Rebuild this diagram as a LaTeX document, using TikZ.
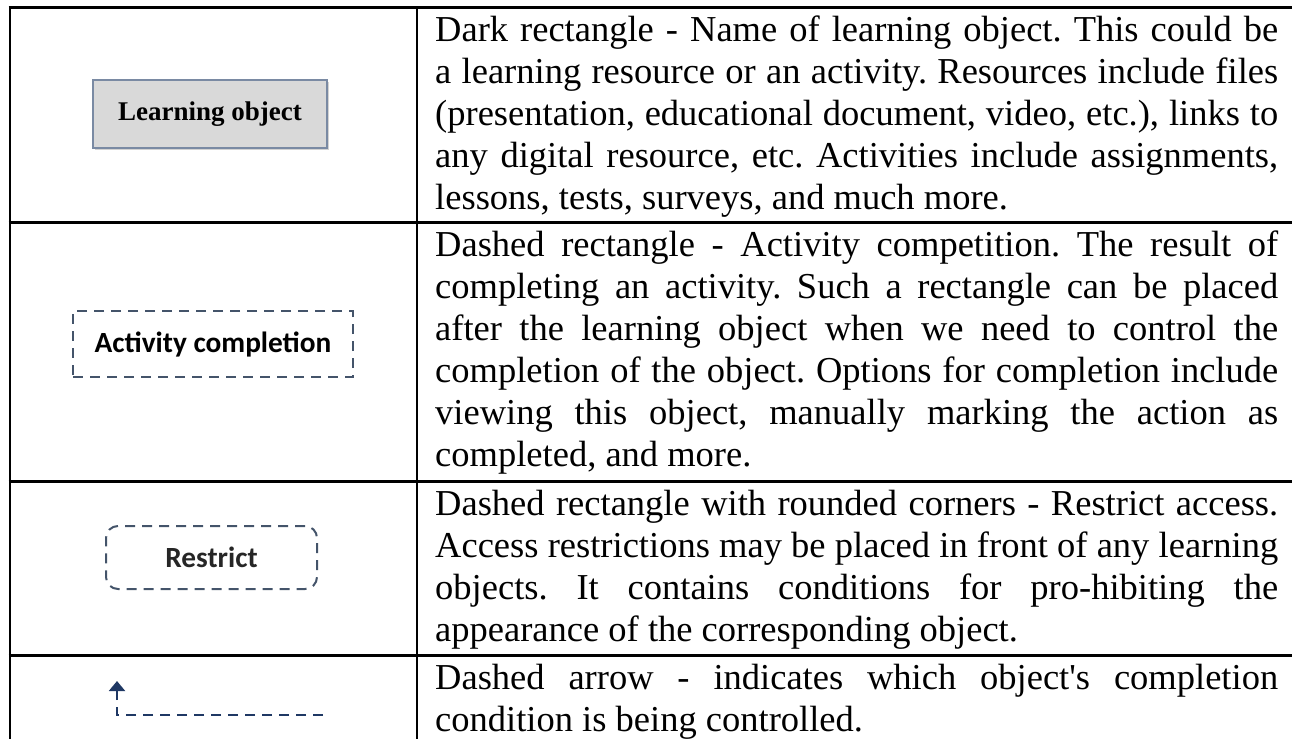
\documentclass[tikz,border=0pt]{standalone}
\usepackage{fontspec}
\setmainfont{Liberation Serif}
\newfontfamily\carlito{Carlito}
\usetikzlibrary{arrows.meta,shadows}
\definecolor{slate}{RGB}{68,84,106}
\definecolor{navy}{RGB}{31,56,100}
\definecolor{boxgray}{RGB}{217,217,217}
\definecolor{boxedge}{RGB}{122,138,163}
\definecolor{labelgray}{RGB}{38,38,38}
\frenchspacing
% one justified line of the description column
\newcommand\jline[1]{\makebox[843pt][s]{#1}}
\begin{document}
\begin{tikzpicture}[x=1pt,y=-1pt,
  grid/.style={line width=2.6pt, black},
  txt/.style={anchor=base west, inner sep=0pt, font=\fontsize{36.5}{42}\selectfont},
  lobj/.style={draw=boxedge, fill=boxgray, line width=1.8pt,
    minimum width=234pt, minimum height=68pt, inner sep=0pt,
    drop shadow={shadow xshift=2pt, shadow yshift=-2pt, opacity=.35},
    font=\bfseries\fontsize{27}{30}\selectfont},
  actbox/.style={draw=slate, dash pattern=on 10pt off 7pt, line width=2pt,
    minimum width=280pt, minimum height=66pt, inner sep=0pt,
    font=\carlito\bfseries\fontsize{29.3}{32}\selectfont},
  restrictbox/.style={draw=slate, dash pattern=on 10pt off 7pt, line width=2pt,
    rounded corners=12pt, minimum width=211pt, minimum height=63pt, inner sep=0pt,
    text=labelgray, font=\carlito\bfseries\fontsize{29.3}{32}\selectfont},
  ctrlarrow/.style={draw=navy, line width=2pt, dash pattern=on 10pt off 7pt,
    -{Triangle[width=16pt,length=10pt]}}
]
\useasboundingbox (0,0) rectangle (1292,739);

% table rules
\draw[grid] (8.7,7.7) -- (1292,7.7);
\draw[grid] (8.7,222.5) -- (1292,222.5);
\draw[grid] (8.7,481.5) -- (1292,481.5);
\draw[grid] (8.7,655.5) -- (1292,655.5);
\draw[grid] (10,6.4) -- (10,739);
\draw[grid] (417,6.4) -- (417,739);

% legend symbols
\node[lobj] (lobj) at (210,114) {Learning object};
\node[actbox] (act) at (213,344) {Activity completion};
\node[restrictbox] (restr) at (211.5,557.5) {Restrict};
\coordinate (arrtail) at (323,715);
\coordinate (arrhead) at (117,681);
\draw[ctrlarrow] (arrtail) -| (arrhead);

% descriptions
\node[txt] (d11) at (435,41) {\jline{Dark rectangle - Name of learning object. This could be}};
\node[txt] (d12) at (435,83) {\jline{a learning resource or an activity. Resources include files}};
\node[txt] (d13) at (435,125) {\jline{(presentation, educational document, video, etc.), links to}};
\node[txt] (d14) at (435,167) {\jline{any digital resource, etc. Activities include assignments,}};
\node[txt] (d15) at (435,209) {lessons, tests, surveys, and much more.};

\node[txt] (d21) at (435,256) {\jline{Dashed rectangle - Activity competition. The result of}};
\node[txt] (d22) at (435,298) {\jline{completing an activity. Such a rectangle can be placed}};
\node[txt] (d23) at (435,340) {\jline{after the learning object when we need to control the}};
\node[txt] (d24) at (435,382) {\jline{completion of the object. Options for completion include}};
\node[txt] (d25) at (435,424) {\jline{viewing this object, manually marking the action as}};
\node[txt] (d26) at (435,466) {completed, and more.};

\node[txt] (d31) at (435,515) {\jline{Dashed rectangle with rounded corners - Restrict access.}};
\node[txt] (d32) at (435,557) {\jline{Access restrictions may be placed in front of any learning}};
\node[txt] (d33) at (435,599) {\jline{objects. It contains conditions for pro-hibiting the}};
\node[txt] (d34) at (435,641) {appearance of the corresponding object.};

\node[txt] (d41) at (435,689) {\jline{Dashed arrow - indicates which object\textquotesingle s completion}};
\node[txt] (d42) at (435,731) {condition is being controlled.};
\end{tikzpicture}
\end{document}
